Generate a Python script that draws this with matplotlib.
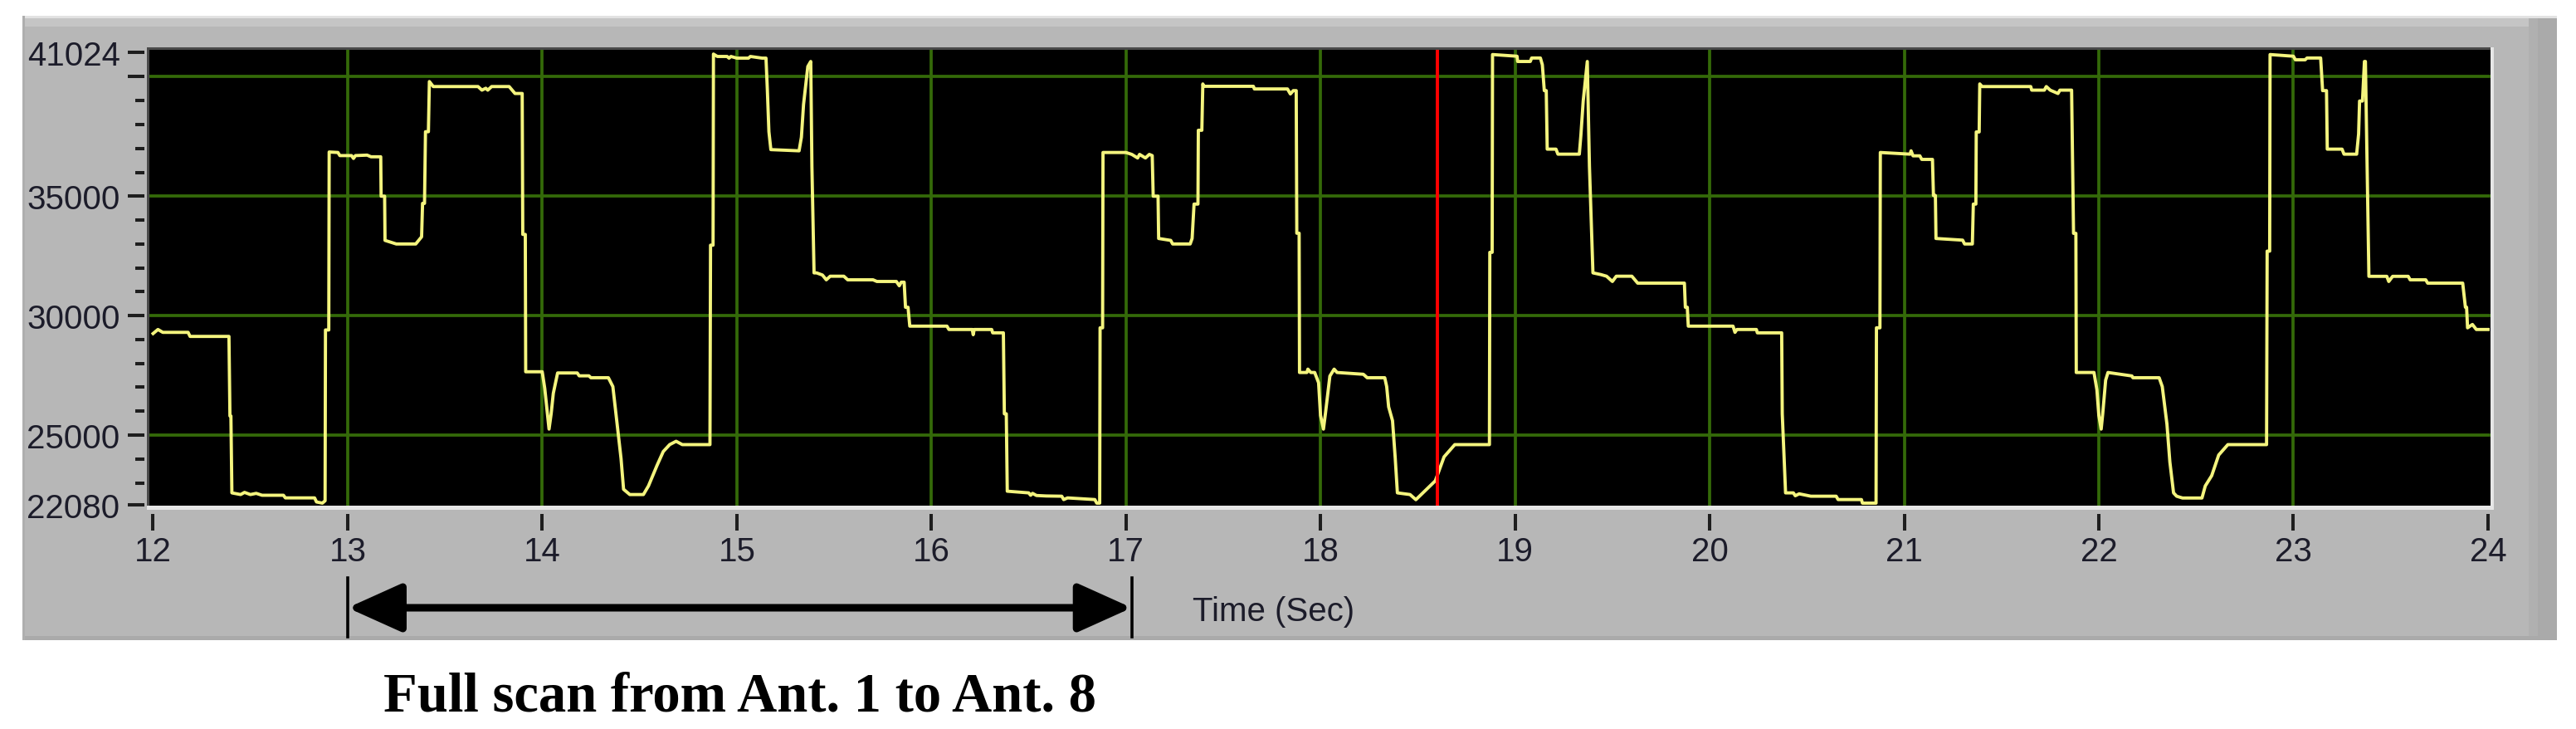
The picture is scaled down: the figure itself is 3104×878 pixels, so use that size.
import matplotlib
matplotlib.use("Agg")
import matplotlib.pyplot as plt
from matplotlib.patches import Rectangle
from matplotlib.lines import Line2D
from matplotlib.transforms import blended_transform_factory
from matplotlib import font_manager

# ---------------- data ----------------
seg1_t = [12.00, 12.025, 12.05, 12.18, 12.19, 12.39, 12.395, 12.40, 12.405, 12.45, 12.47, 12.50,
          12.53, 12.56, 12.67, 12.68, 12.83, 12.84, 12.87, 12.884, 12.886, 12.903, 12.905, 12.95,
          12.96, 13.02, 13.03, 13.04, 13.10, 13.12, 13.17, 13.172, 13.19, 13.192, 13.25, 13.35,
          13.38, 13.385, 13.395, 13.40, 13.415, 13.42, 13.44, 13.67, 13.69, 13.71, 13.72, 13.74,
          13.83, 13.86, 13.897, 13.90, 13.913, 13.915, 14.00, 14.013, 14.035, 14.046, 14.057,
          14.079, 14.18, 14.19, 14.24, 14.25, 14.34, 14.363, 14.385, 14.405, 14.418, 14.45]
seg1_v = [29250, 29420, 29300, 29300, 29130, 29130, 25800, 25800, 22580, 22510, 22600, 22510,
          22560, 22480, 22480, 22370, 22370, 22200, 22150, 22250, 29400, 29400, 36850, 36830,
          36700, 36700, 36580, 36700, 36720, 36650, 36650, 35000, 35000, 33150, 33000, 33000,
          33300, 34700, 34700, 37700, 37700, 39800, 39590, 39590, 39440, 39520, 39440, 39590,
          39590, 39300, 39300, 33400, 33400, 27650, 27650, 26950, 25250, 25900, 26750,
          27600, 27600, 27480, 27480, 27400, 27400, 27030, 25460, 24020, 22730, 22510]

seg2_t = [14.52, 14.546, 14.59, 14.622, 14.655, 14.688, 14.72, 14.862, 14.865, 14.878, 14.88,
          14.90, 14.95, 14.96, 14.97, 15.00, 15.06, 15.07, 15.13, 15.15, 15.157, 15.165, 15.175,
          15.32, 15.332, 15.343, 15.365, 15.38, 15.386, 15.397, 15.41, 15.44, 15.46, 15.48, 15.55,
          15.57, 15.70, 15.72, 15.82, 15.835, 15.845, 15.86, 15.867, 15.88, 15.889, 16.08, 16.09,
          16.21, 16.215, 16.22, 16.31, 16.315, 16.37, 16.375, 16.385, 16.39, 16.50, 16.51, 16.52,
          16.54, 16.59, 16.67, 16.68, 16.70, 16.84, 16.85, 16.865, 16.867, 16.88, 16.882, 17.00,
          17.03, 17.06, 17.07, 17.10, 17.12, 17.135, 17.14, 17.165, 17.168, 17.23, 17.24, 17.33,
          17.34, 17.35, 17.37, 17.372, 17.39, 17.395, 17.40, 17.655, 17.66, 17.83, 17.845, 17.86,
          17.875, 17.878, 17.89, 17.892, 17.93, 17.935, 17.95, 17.97, 17.99, 18.00, 18.015,
          18.025, 18.048, 18.07, 18.085, 18.22, 18.24, 18.33, 18.34, 18.35, 18.37, 18.384,
          18.395, 18.46]
seg2_v = [22510, 22870, 23730, 24310, 24600, 24740, 24600, 24600, 32950, 32950, 40950,
          40850, 40850, 40780, 40850, 40780, 40780, 40850, 40780, 40780, 39450, 37700, 36950,
          36900, 37470, 38840, 40430, 40640, 36250, 31790, 31790, 31700, 31500, 31650, 31650,
          31500, 31500, 31430, 31430, 31250, 31400, 31400, 30350, 30350, 29560, 29560, 29420,
          29420, 29200, 29420, 29420, 29280, 29280, 25890, 25890, 22650, 22580, 22480, 22560,
          22470, 22450, 22440, 22300, 22370, 22300, 22150, 22150, 29490, 29490, 36830, 36830,
          36750, 36600, 36750, 36600, 36750, 36700, 35000, 35000, 33230, 33150, 33000, 33000,
          33230, 34670, 34670, 37760, 37760, 39700, 39600, 39600, 39490, 39490, 39280, 39420,
          39420, 33450, 33450, 27620, 27620, 27760, 27620, 27620, 27190, 25820, 25250,
          25890, 27470, 27760, 27620, 27545, 27400, 27400, 27030, 26180, 25600, 24020,
          22580, 22510]

seg3_t = [18.49, 18.59, 18.635, 18.69, 18.868, 18.87, 18.882, 18.884, 19.01, 19.013, 19.078,
          19.085, 19.13, 19.14, 19.15, 19.16, 19.165, 19.21, 19.22, 19.33, 19.338, 19.35, 19.371,
          19.382, 19.40, 19.44, 19.47, 19.50, 19.52, 19.60, 19.63, 19.87, 19.875, 19.885, 19.89,
          20.12, 20.13, 20.14, 20.24, 20.245, 20.37, 20.373, 20.39, 20.43, 20.44, 20.46, 20.52,
          20.65, 20.66, 20.78, 20.785, 20.855, 20.857, 20.875, 20.877, 21.03, 21.035, 21.045,
          21.08, 21.09, 21.145, 21.15, 21.16, 21.163, 21.30, 21.31, 21.35, 21.355, 21.368, 21.37,
          21.385, 21.388, 21.40, 21.65, 21.655, 21.72, 21.73, 21.75, 21.79, 21.80, 21.86, 21.87,
          21.882, 21.884, 21.975, 21.99, 22.00, 22.012, 22.02, 22.035, 22.047, 22.17, 22.175,
          22.31, 22.326, 22.35, 22.365, 22.384]
seg3_v = [22295, 23085, 24090, 24600, 24600, 32650, 32650, 40930, 40860, 40640, 40640,
          40785, 40785, 40500, 39420, 39420, 36970, 36970, 36760, 36760, 37545, 38985, 40640,
          36250, 31790, 31720, 31650, 31430, 31650, 31650, 31360, 31360, 30350, 30350, 29560,
          29560, 29300, 29420, 29420, 29280, 29280, 25890, 22580, 22580, 22460, 22540, 22440,
          22440, 22300, 22300, 22150, 22150, 29490, 29490, 36830, 36760, 36900, 36690,
          36690, 36540, 36540, 35030, 35030, 33230, 33160, 33000, 33000, 34670, 34670, 37690,
          37690, 39700, 39590, 39590, 39440, 39440, 39590, 39440, 39300, 39440, 39440, 33445,
          33445, 27620, 27620, 26900, 25820, 25250, 25890, 27300, 27620, 27475, 27400,
          27400, 27030, 25460, 23875, 22580]

seg4_t = [22.40, 22.43, 22.53, 22.547, 22.58, 22.616, 22.663, 22.862, 22.865, 22.878, 22.88,
          23.00, 23.01, 23.06, 23.07, 23.14, 23.15, 23.17, 23.174, 23.25, 23.26, 23.325, 23.335,
          23.34, 23.355, 23.365, 23.37, 23.379, 23.388, 23.48, 23.49, 23.51, 23.59, 23.60, 23.68,
          23.69, 23.87, 23.884, 23.89, 23.895, 23.92, 23.94, 24.00]
seg4_v = [22440, 22365, 22365, 22870, 23300, 24165, 24600, 24600, 32700, 32700, 40930,
          40860, 40710, 40710, 40785, 40785, 39420, 39420, 36970, 36970, 36760, 36760, 37600,
          38985, 38985, 40640, 40640, 36100, 31645, 31645, 31430, 31645, 31645, 31500, 31500,
          31360, 31360, 30350, 30350, 29490, 29630, 29420, 29420]

x_ticks = [12, 13, 14, 15, 16, 17, 18, 19, 20, 21, 22, 23, 24]
x_grid = [13, 14, 15, 16, 17, 18, 19, 20, 21, 22, 23]
y_major = [22080, 25000, 30000, 35000, 40000, 41024]
y_major_labels = ["22080", "25000", "30000", "35000", "", "41024"]
y_minor = [23000, 24000, 26000, 27000, 28000, 29000, 31000, 32000, 33000, 34000,
           36000, 37000, 38000, 39000]
y_grid = [25000, 30000, 35000, 40000]
cursor_time = 18.6
scan_start, scan_end = 13.0, 17.03
x_label = "Time (Sec)"
caption = "Full scan from Ant. 1 to Ant. 8"

# ---------------- figure ----------------
W, H = 3104, 879
fig = plt.figure(figsize=(W / 100, H / 100), dpi=100, facecolor="white")

def fx(px):
    return px / W

def fy(py):
    return 1 - py / H

def frect(x0, y0, x1, y1, color, z):
    fig.add_artist(Rectangle((fx(x0), fy(y1)), (x1 - x0) / W, (y1 - y0) / H,
                             transform=fig.transFigure, facecolor=color,
                             edgecolor="none", zorder=z))

names = {f.name for f in font_manager.fontManager.ttflist}
sans = "Liberation Sans Narrow" if "Liberation Sans Narrow" in names else "Liberation Sans"
serif = "Liberation Serif" if "Liberation Serif" in names else "DejaVu Serif"

# LabVIEW-like grey panel
frect(27, 20, 3081, 772, "#b7b7b7", -20)
frect(27, 20, 3081, 23, "#e2e2e2", -19)
frect(27, 23, 3081, 33, "#c5c5c5", -19)
frect(3047, 23, 3081, 772, "#aaaaaa", -19)
frect(3047, 23, 3058, 772, "#b0b0b0", -18)
frect(27, 767, 3081, 772, "#aaaaaa", -18)
frect(27, 20, 30, 772, "#aeaeae", -18)
# bevel around plot area
frect(177, 58, 3005, 615, "#e6e6e6", -15)
frect(177, 58, 3001, 610, "#4a4a4a", -14)

ax = fig.add_axes([fx(180), fy(610), (3001 - 180) / W, (610 - 61) / H])
ax.set_facecolor("black")
for s in ax.spines.values():
    s.set_visible(False)

ax.set_xlim(11.981, 24.013)
ax.set_ylim(22045, 41128)

green = "#346a09"
for g in y_grid:
    ax.axhline(g, color=green, lw=2.7, zorder=1)
for g in x_grid:
    ax.axvline(g, color=green, lw=2.7, zorder=1)

t_all = seg1_t + seg2_t + seg3_t + seg4_t
v_all = seg1_v + seg2_v + seg3_v + seg4_v
ax.plot(t_all, v_all, color="#f4f47e", lw=2.8, zorder=3)
ax.axvline(cursor_time, color="#ff0000", lw=2.8, zorder=4)

# ticks
ax.spines["left"].set_position(("outward", 4.5))
ax.spines["bottom"].set_position(("outward", 7.5))
ax.set_yticks(y_major)
ax.set_yticklabels(y_major_labels)
ax.set_yticks(y_minor, minor=True)
ax.set_xticks(x_ticks)
ax.set_xticklabels([str(v) for v in x_ticks])
tick_col = "#1e1e1e"
ax.tick_params(axis="y", which="major", length=14.5, width=2.9, color=tick_col,
               pad=6.5, labelsize=29, labelcolor="#1c1c2a")
ax.tick_params(axis="y", which="minor", length=8, width=2.9, color=tick_col)
ax.tick_params(axis="x", which="major", length=14.5, width=2.9, color=tick_col,
               pad=4, labelsize=29, labelcolor="#1c1c2a")
for lab in ax.get_xticklabels() + ax.get_yticklabels():
    lab.set_fontfamily(sans)

fig.text(fx(1437), fy(737), x_label, ha="left", va="center", fontsize=29,
         family=sans, color="#1c1c2a")

# scan-span arrow
btr = blended_transform_factory(ax.transData, fig.transFigure)
for xb in (scan_start, scan_end):
    fig.add_artist(Line2D([xb, xb], [fy(697), fy(768)], transform=btr,
                          color="black", lw=2.6, zorder=5))
ax.annotate("", xy=(scan_start, fy(733)), xytext=(scan_end, fy(733)),
            xycoords=("data", "figure fraction"), textcoords=("data", "figure fraction"),
            arrowprops=dict(arrowstyle="<|-|>,head_length=4.0,head_width=1.8",
                            lw=6.5, color="black", shrinkA=0, shrinkB=0),
            annotation_clip=False)

ax.text((scan_start + scan_end) / 2, fy(857), caption, transform=btr,
        ha="center", va="baseline", fontsize=48, fontweight="bold",
        family=serif, color="black", clip_on=False)

fig.savefig("out.png", dpi=100, facecolor="white")
